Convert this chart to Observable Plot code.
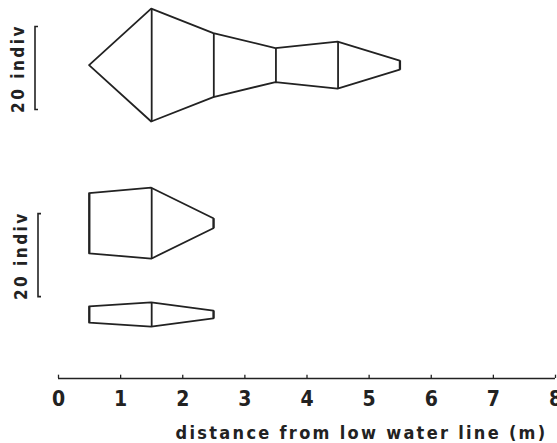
<!DOCTYPE html>
<html><head><meta charset="utf-8">
<script src="https://cdn.jsdelivr.net/npm/d3@7"></script>
<script src="https://cdn.jsdelivr.net/npm/@observablehq/plot@0.6"></script>
<style>
body{margin:0;background:#fff}
#chart svg text{font-family:"DejaVu Sans Condensed","DejaVu Sans",sans-serif;font-weight:bold;fill:#222}
#chart g[aria-label="x-axis tick label"] text{font-size:21px}
#chart g.ttl text{font-size:18px;letter-spacing:2.3px}
#chart g.sl text{font-size:17px;letter-spacing:2.5px}
</style></head><body><div id="chart"></div>
<script>
// Stations along the transect (m) and kite widths (individuals)
const stations = [0.5, 1.5, 2.5, 3.5, 4.5, 5.5];
const kiteTop = [0, 27.2, 15.4, 8.2, 11.3, 2.2];
const kiteMid = [14.5, 17.1, 2.4];
const kiteLow = [3.9, 5.8, 1.9];
const xTicks = [0, 1, 2, 3, 4, 5, 6, 7, 8];
const scaleBarValue = 20;
const scaleLabel = "20 indiv";
const xTitle = "distance from low water line (m)";

// layout (lane centres in the y unit, individuals)
const centers = [75.4, 37.3, 15.3];
const series = [kiteTop, kiteMid, kiteLow];
const rows = series.flatMap((vals, k) => vals.map((v, i) => ({lane: k, x: stations[i], lo: centers[k] - v / 2, hi: centers[k] + v / 2})));
const bars = [{c: 74.7, dx: -23, tdx: -40}, {c: 29.6, dx: -20, tdx: -37}];

const H = 443, MB = 65, PX = 4.15;
const ink = "#222";

function scaleBars(index, scales) {
  const g = d3.create("svg:g");
  for (const b of bars) {
    const x = scales.x(0) + b.dx;
    const y1 = scales.y(b.c + scaleBarValue / 2), y2 = scales.y(b.c - scaleBarValue / 2);
    g.append("path").attr("d", `M${x + 3},${y1}H${x}V${y2}H${x + 3}`)
      .attr("fill", "none").attr("stroke", ink).attr("stroke-width", 1.6);
  }
  return g.node();
}

const plot = Plot.plot({
  width: 557, height: H,
  marginLeft: 58, marginRight: 2, marginTop: 0, marginBottom: MB,
  x: {domain: [0, 8], label: null},
  y: {domain: [0, (H - MB) / PX], axis: null},
  marks: [
    Plot.areaY(rows, {x: "x", y1: "lo", y2: "hi", z: "lane", fill: "none", stroke: ink, strokeWidth: 1.8, strokeLinejoin: "round"}),
    Plot.ruleX(rows, {x: "x", y1: "lo", y2: "hi", stroke: ink, strokeWidth: 1.8}),
    Plot.ruleY([0], {x1: 0, x2: 8, stroke: ink, strokeWidth: 1.5}),
    Plot.ruleX(xTicks, {x: d => d, y1: 0, y2: 0.8, stroke: ink, strokeWidth: 1.3}),
    Plot.axisX({ticks: xTicks, tickSize: 0, tickPadding: 13, tickFormat: d => String(d), label: null}),
    Plot.text([xTitle], {frameAnchor: "bottom-right", text: d => d, dx: -8, dy: 60, textAnchor: "end", lineAnchor: "bottom", className: "ttl"}),
    scaleBars,
    Plot.text(bars, {x: 0, y: "c", text: () => scaleLabel, rotate: -90, className: "sl"})
  ]
});
document.getElementById("chart").appendChild(plot);
// shift scale labels horizontally
d3.select(plot).selectAll("g.sl text").each(function(d, i) {
  const t = d3.select(this);
  const tr = t.attr("transform") || "";
  t.attr("transform", `translate(${bars[i].tdx},0) ` + tr);
});
</script></body></html>
